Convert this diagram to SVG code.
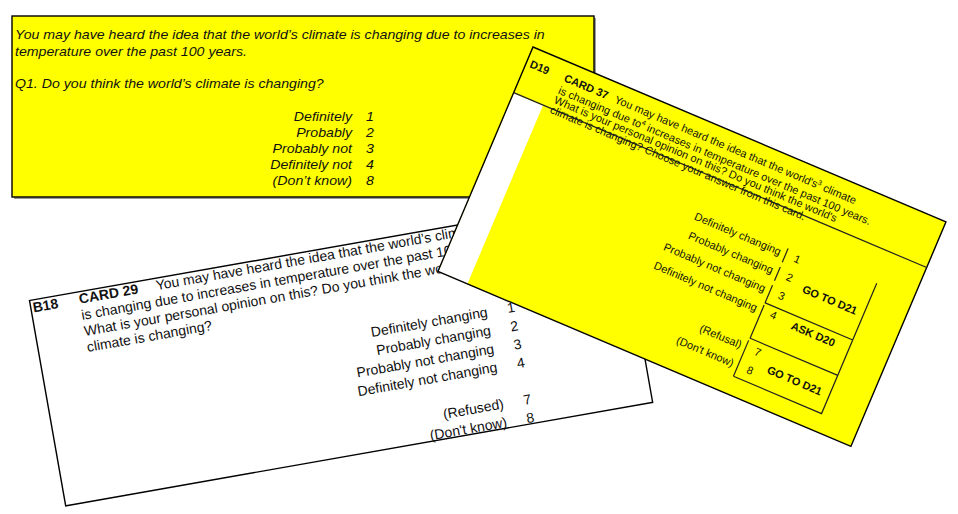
<svg xmlns="http://www.w3.org/2000/svg" width="958" height="514" viewBox="0 0 958 514">
<style>
text{font-family:"Liberation Sans",Arial,sans-serif;fill:#111}
.c1{font-size:12px;font-style:italic}
.c2{font-size:14px}
.c3{font-size:11px}
.b{font-weight:bold}
.r{text-anchor:end}
.m{text-anchor:middle}
.edge{fill:none;stroke:#000;stroke-width:1.4}
.ln{fill:none;stroke:#222;stroke-width:1.2}
</style>
<rect width="958" height="514" fill="#fff"/>

<g id="card-q1">
<rect x="14" y="18" width="582" height="181" fill="#9a9a9a"/>
<rect x="12" y="16" width="582" height="181" fill="#ffff00"/>
<rect class="edge" x="12" y="16" width="582" height="181"/>
<g transform="matrix(1.18,0,0,1,-2.7,0)">
<text class="c1" x="15" y="39">You may have heard the idea that the world’s climate is changing due to increases in</text>
<text class="c1" x="15" y="56">temperature over the past 100 years.</text>
<text class="c1" x="15" y="88.3">Q1. Do you think the world’s climate is changing?</text>
<text class="c1 r" x="300.6" y="121">Definitely</text><text class="c1" x="312.5" y="121">1</text>
<text class="c1 r" x="300.6" y="137">Probably</text><text class="c1" x="312.5" y="137">2</text>
<text class="c1 r" x="300.6" y="153">Probably not</text><text class="c1" x="312.5" y="153">3</text>
<text class="c1 r" x="300.6" y="169">Definitely not</text><text class="c1" x="312.5" y="169">4</text>
<text class="c1 r" x="300.6" y="185">(Don’t know)</text><text class="c1" x="312.5" y="185">8</text>
</g>
</g>

<g id="card-b18" transform="translate(29.5,300.5) rotate(-10)">
<rect width="596" height="208.5" fill="#fff"/>
<rect class="edge" width="596" height="208.5"/>
<text class="c2 b" x="2" y="12.5">B18</text>
<text class="c2 b" x="49" y="12">CARD 29</text>
<text class="c2" x="127" y="12">You may have heard the idea that the world’s climate</text>
<text class="c2" x="48.5" y="28.3">is changing due to increases in temperature over the past 100 years.</text>
<text class="c2" x="48.5" y="44.6">What is your personal opinion on this? Do you think the world’s</text>
<text class="c2" x="48.5" y="60.9">climate is changing?</text>
<text class="c2 r" x="449" y="95.5">Definitely changing</text><text class="c2" x="469" y="95.5">1</text>
<text class="c2 r" x="449" y="114.2">Probably changing</text><text class="c2" x="469" y="114.2">2</text>
<text class="c2 r" x="449" y="132.8">Probably not changing</text><text class="c2" x="469" y="132.8">3</text>
<text class="c2 r" x="449" y="151.4">Definitely not changing</text><text class="c2" x="469" y="151.4">4</text>
<text class="c2 r" x="449" y="188.7">(Refused)</text><text class="c2" x="469" y="188.7">7</text>
<text class="c2 r" x="449" y="207.3">(Don't know)</text><text class="c2" x="469" y="207.3">8</text>
</g>

<g id="card-d19" transform="translate(533,47) rotate(22.96)">
<rect width="448.5" height="243.7" fill="#ffff00"/>
<rect x="0.5" y="50" width="31.5" height="193.5" fill="#fff"/>
<rect class="edge" width="448.5" height="243.7" stroke-width="1.6"/>
<line class="ln" x1="0" y1="49.5" x2="448.5" y2="49.5"/>
<text class="c3 b" x="4" y="20">D19</text>
<text class="c3 b" x="41" y="19.5">CARD 37</text>
<text class="c3" x="96" y="19.5">You may have heard the idea that the world's<tspan dy="-4" font-size="7">3</tspan><tspan dy="4"> climate</tspan></text>
<text class="c3" x="40.5" y="33">is changing due to<tspan dy="-4" font-size="7">4</tspan><tspan dy="4"> increases in temperature over the past 100 years.</tspan></text>
<text class="c3" x="40.5" y="43.5">What is your personal opinion on this? Do you think the world's</text>
<text class="c3" x="40.5" y="54">climate is changing? Choose your answer from this card.</text>
<text class="c3 r" x="308" y="96">Definitely changing</text><text class="c3" x="323" y="96">1</text>
<text class="c3 r" x="308" y="116">Probably changing</text><text class="c3" x="323" y="116">2</text>
<text class="c3 r" x="308" y="136">Probably not changing</text><text class="c3" x="323" y="136">3</text>
<text class="c3 r" x="308" y="157">Definitely not changing</text><text class="c3" x="323" y="157">4</text>
<text class="c3 r" x="308" y="197">(Refusal)</text><text class="c3" x="323" y="197">7</text>
<text class="c3 r" x="308" y="217">(Don't know)</text><text class="c3" x="323" y="217">8</text>
<path class="ln" d="M408.7,83.5 V225 H313 M313,145 H408.7 M313,183.5 H408.7 M313.5,86 V101 M313.5,106 V121 M313.5,126 V145 M313.5,147.5 V183.5 M313,186 V225"/>
<text class="c3 b m" x="372" y="121">GO TO D21</text>
<text class="c3 b m" x="370" y="159">ASK D20</text>
<text class="c3 b m" x="371" y="209">GO TO D21</text>
</g>
</svg>
